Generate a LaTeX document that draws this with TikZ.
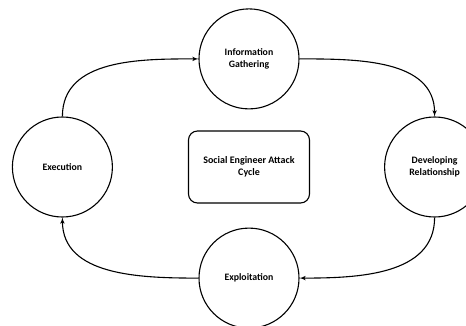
\documentclass[tikz,border=0pt]{standalone}
\usepackage{fontspec}
\setmainfont{Carlito}
\usepackage{tikz}
\usetikzlibrary{arrows, positioning}

\begin{document}
\begin{tikzpicture}[x=1pt, y=-1pt, node distance=2cm, auto, >=latex', every node/.style={transform shape}]
    \tikzstyle{phase} = [circle, draw=black, line width=1.1pt, minimum size=100pt, inner sep=0pt, align=center, font=\fontsize{9.8}{12.5}\selectfont\bfseries]
    \tikzstyle{core} = [rectangle, draw=black, line width=1.1pt, rounded corners=9pt, minimum width=121pt, minimum height=72pt, align=center, font=\fontsize{10}{12.5}\selectfont\bfseries]
    \tikzstyle{line} = [draw, ->, line width=1.1pt]

    \useasboundingbox (0,0) rectangle (466,326);

    \node [core] (cycle) at (249,167) {Social Engineer Attack\\ Cycle};
    \node [phase, above=21pt of cycle] (info) {Information\\ Gathering};
    \node [phase, below=24pt of cycle] (exploit) {Exploitation};
    \node [phase, left=75pt of cycle] (exec) {Execution};
    \node [phase, right=74pt of cycle] (develop) {Developing\\ Relationship};

    \path [line] (exec.north) to[out=90, in=180] (info.west);
    \path [line] (info.east) to[out=0, in=90] (develop.north);
    \path [line] (develop.south) to[out=-90, in=0] (exploit.east);
    \path [line] (exploit.west) to[out=180, in=-90] (exec.south);
\end{tikzpicture}
\end{document}
